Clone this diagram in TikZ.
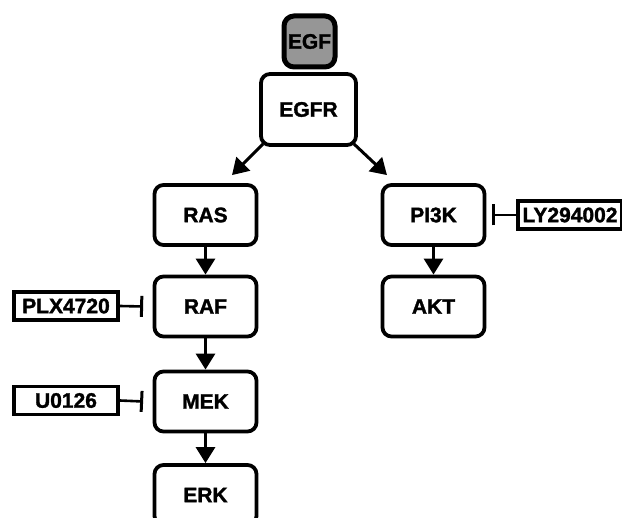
\documentclass[tikz,border=0pt]{standalone}
\usepackage{fontspec}
\setmainfont{Liberation Sans}[BoldFeatures={FakeBold=1.5}]
\usetikzlibrary{arrows.meta,calc}
\begin{document}
\begin{tikzpicture}[x=1pt,y=-1pt,
  box/.style={draw,line width=3.8pt,rounded corners=9pt,minimum width=102pt,minimum height=60pt,inner sep=0pt,font=\fontsize{21}{23}\selectfont\bfseries,fill=white},
  drug/.style={draw,line width=3.6pt,inner sep=0pt,minimum width=104pt,minimum height=28pt,font=\fontsize{21}{23}\selectfont\bfseries,fill=white},
  arr/.style={line width=3pt,-{Triangle[length=16pt,width=19pt]}},
  inh/.style={line width=2.6pt,-{Bar[width=21pt,line width=3pt]}}]
\useasboundingbox (0,0) rectangle (622,518);
\node[box,minimum width=95pt,minimum height=71pt] (egfr) at (308.5,109.5) {EGFR};
\node[box,minimum width=51pt,minimum height=51pt,line width=5pt,rounded corners=10pt,fill={rgb,255:red,150;green,150;blue,150}] (egf) at (309.5,41.5) {EGF};
\node[box] (ras) at (205.5,215) {RAS};
\node[box] (raf) at (205.5,306.5) {RAF};
\node[box] (mek) at (205.5,401.5) {MEK};
\node[box] (erk) at (205.5,495) {ERK};
\node[box] (pi3k) at (433.5,215) {PI3K};
\node[box] (akt) at (433.5,306.5) {AKT};
\node[drug] (plx) at (66,306) {PLX4720};
\node[drug] (u0126) at (66,400.5) {U0126};
\node[drug] (ly) at (570,215) {LY294002};
\draw[arr] ([xshift=4pt,yshift=3pt]egfr.south west) -- ([xshift=26.5pt,yshift=8pt]ras.north);
\draw[arr] ([xshift=-4pt,yshift=3pt]egfr.south east) -- ([xshift=-46.5pt,yshift=8pt]pi3k.north);
\draw[arr] (ras.south) -- (raf.north);
\draw[arr] (raf.south) -- (mek.north);
\draw[arr] (mek.south) -- (erk.north);
\draw[arr] (pi3k.south) -- (akt.north);
\draw[inh] (plx.east) -- ([xshift=-9.5pt]raf.west);
\draw[inh] (u0126.east) -- ([xshift=-9.5pt]mek.west);
\draw[inh] (ly.west) -- ([xshift=6pt]pi3k.east);
\end{tikzpicture}
\end{document}
